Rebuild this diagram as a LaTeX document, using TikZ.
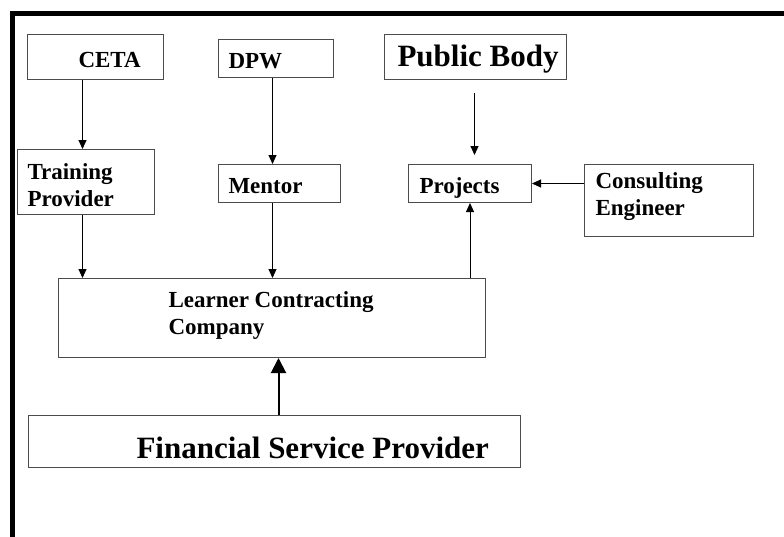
\documentclass[tikz,border=0pt]{standalone}
\usepackage{fontspec}
\setmainfont{Liberation Serif}
\usetikzlibrary{arrows.meta}

\tikzset{
  box/.style={draw=black!70, line width=1pt, anchor=north west, inner sep=0pt,
    align=left, font=\bfseries\fontsize{23}{26.5}\selectfont},
  bigtext/.style={font=\bfseries\fontsize{31}{36}\selectfont},
  lskip/.style={execute at begin node={\leftskip=#1pt\spaceskip=\fontdimen2\font\relax}},
  arr/.style={-{Triangle[length=9pt,width=8pt]}, line width=1pt},
  fatarr/.style={-{Triangle[length=15pt,width=15pt]}, line width=2pt},
}

\begin{document}
\begin{tikzpicture}[x=1pt, y=-1pt]
        \useasboundingbox (0,0) rectangle (784,536);
        % heavy frame, left and top only
        \draw[line width=5pt] (12.5,540) -- (12.5,13.5) -- (790,13.5);

        % top row
        \node[box, lskip=51, text width=136pt, text height=33pt, text depth=12pt] (ceta) at (27,34) {CETA};
        \node[box, lskip=10, text width=115pt, text height=29pt, text depth=9pt] (dpw) at (218,39) {DPW};
        \node[box, bigtext, lskip=13, text width=182pt, text height=32pt, text depth=13pt] (pb) at (384,34) {Public Body};

        % middle row
        \node[box, lskip=10, text width=137pt, text height=30pt, text depth=35pt] (tp) at (17,149) {Training\\Provider};
        \node[box, lskip=10, text width=122pt, text height=29pt, text depth=9pt] (mentor) at (218,164) {Mentor};
        \node[box, lskip=11, text width=123pt, text height=29pt, text depth=9pt] (proj) at (408,164) {Projects};
        \node[box, lskip=11, text width=169pt, text height=24pt, text depth=48pt] (ce) at (584,164) {Consulting\\Engineer};

        % bottom
        \node[box, lskip=110, text width=427pt, text height=29pt, text depth=50pt] (lcc) at (58,278) {Learner Contracting\\Company};
        \node[box, bigtext, lskip=108, text width=492pt, text height=43pt, text depth=9pt] (fsp) at (28,415) {Financial Service Provider};

        \draw[arr] ([xshift=-13pt]ceta.south) -- ([xshift=-13pt]ceta.south |- tp.north);
        \draw[arr] ([xshift=-3.5pt]tp.south) -- ([xshift=-3.5pt]tp.south |- lcc.north);
        \draw[arr] ([xshift=-3.5pt]dpw.south) -- ([xshift=-3.5pt]dpw.south |- mentor.north);
        \draw[arr] ([xshift=-7pt]mentor.south) -- ([xshift=-7pt]mentor.south |- lcc.north);
        \draw[arr, shorten <=13pt, shorten >=9pt] ([xshift=-1pt]pb.south) -- ([xshift=-1pt]pb.south |- proj.north);
        \draw[arr] (ce.west |- proj.east) -- (proj.east);
        \draw[arr] (proj.south |- lcc.north) -- (proj.south);
        \draw[fatarr] ([xshift=4pt]fsp.north) -- ([xshift=4pt]fsp.north |- lcc.south);
\end{tikzpicture}
\end{document}
